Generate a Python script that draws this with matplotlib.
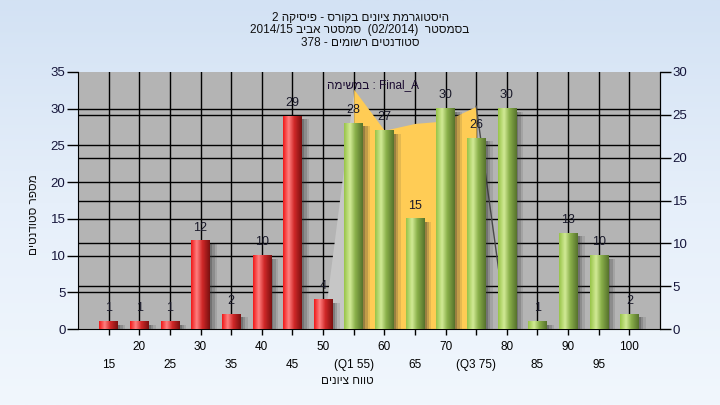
import re
import numpy as np
import matplotlib
matplotlib.use("Agg")
import matplotlib.pyplot as plt
from matplotlib.colors import LinearSegmentedColormap

# ---- data ----
grades = [15, 20, 25, 30, 35, 40, 45, 50, 55, 60, 65, 70, 75, 80, 85, 90, 95, 100]
counts = [1, 1, 1, 12, 2, 10, 29, 4, 28, 27, 15, 30, 26, 30, 1, 13, 10, 2]
tick_labels = ["15", "20", "25", "30", "35", "40", "45", "50", "(Q1 55)", "60",
               "65", "70", "(Q3 75)", "80", "85", "90", "95", "100"]
area_x = [50, 55, 60, 65, 70, 75, 80]
area_y = [0, 28, 23.2, 24, 24.3, 26, 0]   # right-axis units

title_lines = ["היסטוגרמת ציונים בקורס - פיסיקה 2",
               "בסמסטר  (02/2014)  סמסטר אביב 2014/15",
               "סטודנטים רשומים - 378"]
ylabel = "מספר סטודנטים"
xlabel = "טווח ציונים"
legend_label = "Final_A : במשימה"

FONT = ["Liberation Sans", "DejaVu Sans"]
plt.rcParams["font.family"] = FONT
MIRROR = {"(": ")", ")": "("}


def rtl(s):
    # crude visual reordering for a right-to-left paragraph
    toks = re.findall(r"[A-Za-z0-9_/.]+|.", s)
    return "".join(MIRROR.get(t, t) for t in reversed(toks))


left_max, right_max = 35, 30
to_left = lambda v: np.asarray(v, dtype=float) * left_max / right_max
to_right = lambda v: np.asarray(v, dtype=float) * right_max / left_max

fig = plt.figure(figsize=(7.2, 4.05), dpi=100)

# background gradient
bg = fig.add_axes([0, 0, 1, 1], zorder=-10)
grad = np.linspace(0, 1, 256)[:, None]
bg_cmap = LinearSegmentedColormap.from_list("bg", ["#D3E2F4", "#E6EFFA", "#F1F7FD"])
bg.imshow(grad, aspect="auto", cmap=bg_cmap, extent=[0, 1, 0, 1])
bg.axis("off")

ax = fig.add_axes([78 / 720, 1 - 329 / 405, 582 / 720, 257 / 405])
ax.set_facecolor("#B4B4B4")

# grid lines
for g in grades:
    ax.axvline(g, color="black", lw=1, zorder=1)
for v in range(5, left_max, 5):
    ax.axhline(v, color="black", lw=1, zorder=1)
for v in range(5, right_max, 5):
    ax.axhline(float(to_left(v)), color="black", lw=1, zorder=1)

# area series (right axis): yellow body, lighter rising side, dark falling edge
ay = to_left(area_y)
ax.fill_between(area_x[:2], 0, ay[:2], color="#C6C6C6", zorder=2, lw=0)
ax.fill_between(area_x[1:-1], 0, ay[1:-1], color="#FFCC55", zorder=2, lw=0)
ax.plot(area_x[-2:], ay[-2:], color="#4A4A4A", lw=1, zorder=2)
ax.text(0.428, 0.95, rtl(legend_label), transform=ax.transAxes, fontsize=8.5,
        color="#1a0a30", va="center", ha="left", zorder=6)


def bar_img(stops):
    cmap = LinearSegmentedColormap.from_list("b", stops)
    return cmap(np.linspace(0, 1, 64))[None, :, :3]


red = bar_img([(0, "#F01818"), (0.3, "#FF8080"), (0.6, "#D02828"), (1, "#7A1010")])
green = bar_img([(0, "#98C448"), (0.32, "#D2EA96"), (0.6, "#8AB04A"), (1, "#56722C")])

w = 3.0
for g, c in zip(grades, counts):
    img = red if g < 55 else green
    # soft shadow
    for k, a in zip([0.4, 0.8, 1.2], [0.28, 0.2, 0.12]):
        ax.add_patch(plt.Rectangle((g - w / 2 + k, -0.4), w, c, color="#303030",
                                   alpha=a, lw=0, zorder=3))
    ax.imshow(img, extent=[g - w / 2, g + w / 2, 0, c], aspect="auto",
              interpolation="bilinear", zorder=4)
    ax.text(g, c + 1.0, str(c), ha="center", va="bottom", fontsize=9,
            color="#1a1a2a", zorder=6)

ax.set_xlim(10, 105)
ax.set_ylim(0, left_max)

# x ticks in two staggered rows
labels = [lbl if i % 2 == 1 else "\n" + lbl for i, lbl in enumerate(tick_labels)]
ax.set_xticks(grades, labels)
for t in ax.get_xticklabels():
    t.set_linespacing(1.6)
ax.tick_params(axis="x", length=4, width=1, pad=5, labelsize=8.5, direction="out")
ax.set_yticks(range(0, left_max + 1, 5))
ax.tick_params(axis="y", length=8, width=1, pad=1, labelsize=9.5, colors="black",
               labelcolor="#15153a")
for s in ax.spines.values():
    s.set_color("black")
ax.spines["top"].set_visible(False)

sec = ax.secondary_yaxis("right", functions=(to_right, to_left))
sec.set_yticks(range(0, right_max + 1, 5))
sec.tick_params(length=8, width=1, pad=1, labelsize=9.5, labelcolor="#15153a")

fig.text(34 / 720, 1 - 215 / 405, rtl(ylabel), rotation=90, ha="center",
         va="center", fontsize=8.5, color="#111111")
fig.text(347 / 720, 1 - 381 / 405, rtl(xlabel), ha="center", va="center",
         fontsize=8.5, color="#111111")
for i, line in enumerate(title_lines):
    fig.text(360 / 720, 1 - (18 + 12.5 * i) / 405, rtl(line), ha="center",
             va="center", fontsize=8.5, color="#111111")

fig.savefig("out.png", dpi=100)
